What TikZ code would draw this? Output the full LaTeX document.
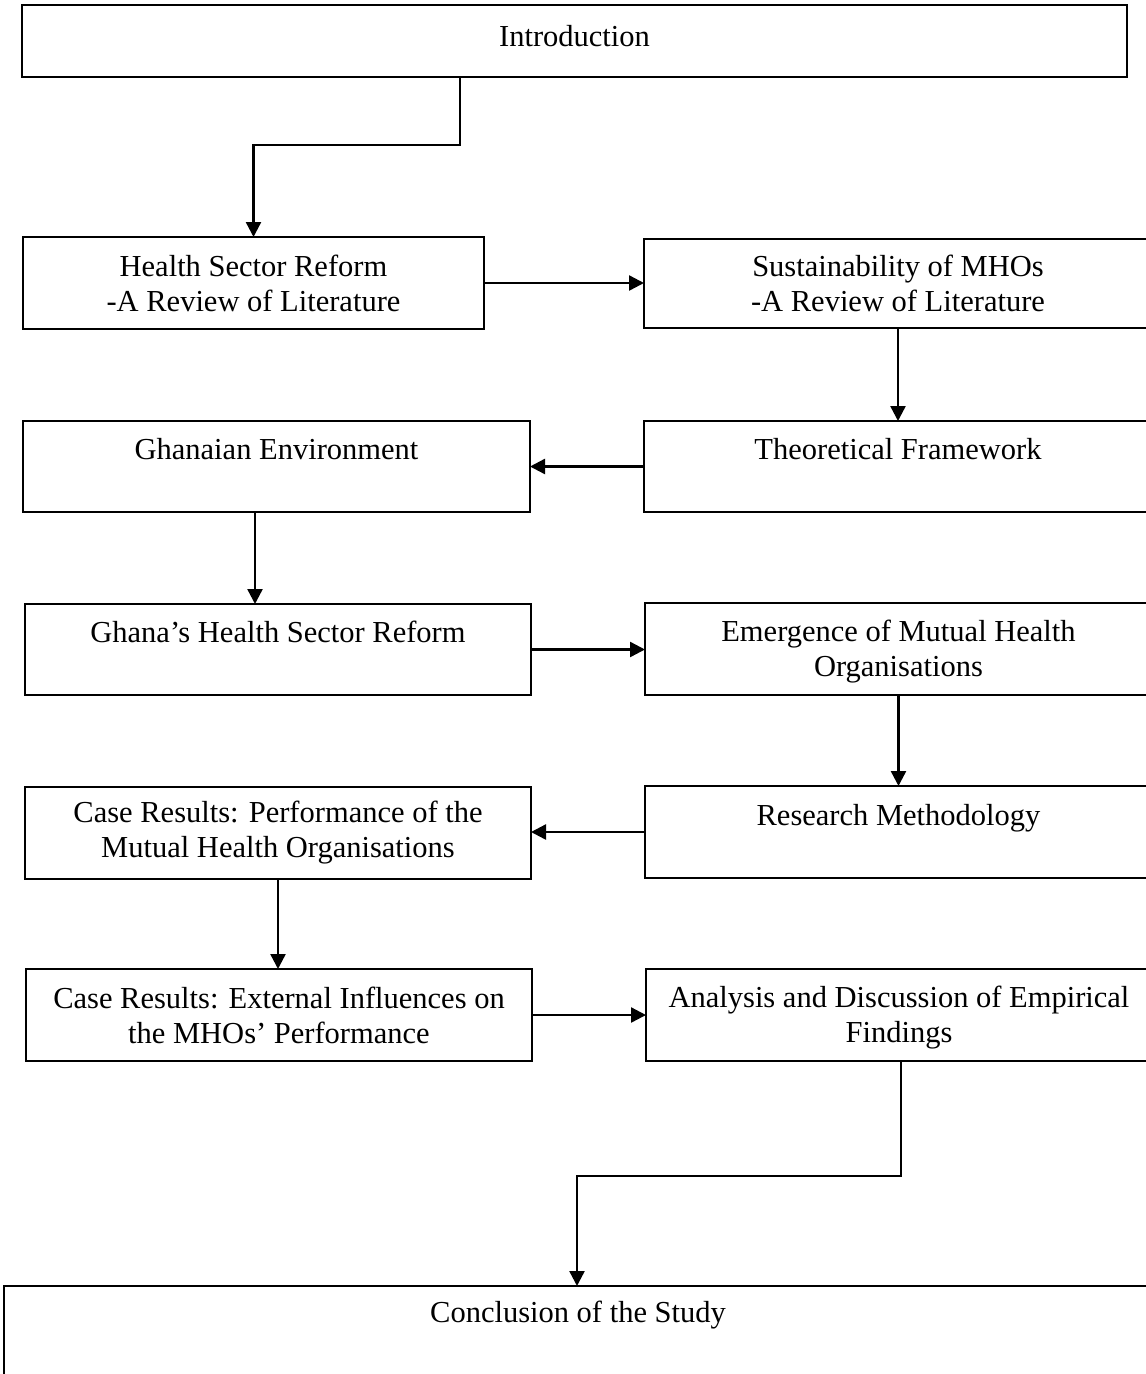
\documentclass[tikz,border=0pt]{standalone}
\usepackage{fontspec}
\setmainfont{Liberation Serif}
\usetikzlibrary{arrows.meta,calc}

\tikzset{
  box/.style={draw=black, line width=2.4pt, rectangle, anchor=north west,
    inner sep=0pt, outer sep=0pt, align=center,
    font=\fontsize{30.5}{35}\selectfont},
  arr/.style={draw=black, line width=2.4pt,
    -{Triangle[length=15pt,width=15pt]}},
  lbl/.style={inner sep=0pt, font=\fontsize{30.5}{35}\selectfont}
}

% place a box by its top-left corner and its size
\newcommand{\flowbox}[6]{%
  \node[box, minimum width=#3pt, minimum height=#4pt] (#5) at (#1,#2) {#6};}
% taller first line, pushes a two-line label slightly down
\newcommand{\lowstrut}{\rule{0pt}{26pt}}

\begin{document}
\begin{tikzpicture}[x=1pt, y=-1pt]
\useasboundingbox (0,0) rectangle (1146,1374);
\clip (0,0) rectangle (1146,1374);

% chapter boxes
\flowbox{22}{5}{1105}{72}{intro}{\raisebox{10pt}{Introduction}}
\flowbox{23}{237}{461}{92}{hsr}{Health Sector Reform\\-A Review of Literature}
\flowbox{644}{239}{508}{89}{sus}{Sustainability of MHOs\\-A Review of Literature}
\flowbox{23}{421}{507}{91}{ghe}{Ghanaian Environment\\\mbox{}}
\flowbox{644}{421}{508}{91}{thf}{Theoretical Framework\\\mbox{}}
\flowbox{25}{604}{506}{91}{ghr}{Ghana’s Health Sector Reform\\\mbox{}}
\flowbox{645}{603}{507}{92}{emh}{\lowstrut Emergence of Mutual Health\\Organisations}
\flowbox{25}{787}{506}{92}{cpm}{Case Results: Performance of the\\Mutual Health Organisations}
\flowbox{645}{786}{507}{92}{rme}{Research Methodology\\\mbox{}}
\flowbox{26}{969}{506}{92}{cex}{Case Results: External Influences on\\the MHOs’ Performance}
\flowbox{646}{969}{506}{92}{ana}{\lowstrut Analysis and Discussion of Empirical\\Findings}
\flowbox{4}{1286}{1160}{120}{con}{}
\node[lbl] (contxt) at (578,1315) {Conclusion of the Study};

% bend points of the stepped connectors
\coordinate (b1) at (460,145);
\coordinate (b2) at (901,1176);
\coordinate (b3) at (577,1176);

% connectors
\draw[arr] (intro.south -| b1) -- (b1) -| (hsr.north);
\draw[arr] (hsr.east) -- (sus.west |- hsr.east);
\draw[arr] (sus.south) -- (thf.north -| sus.south);
\draw[arr] (thf.west) -- (ghe.east |- thf.west);
\draw[arr] ($(ghe.south west)+(232,0)$) -- ($(ghr.north west)+(230,0)$);
\draw[arr] (ghr.east) -- (emh.west |- ghr.east);
\draw[arr] (emh.south) -- (rme.north -| emh.south);
\draw[arr] (rme.west) -- (cpm.east |- rme.west);
\draw[arr] (cpm.south) -- (cex.north -| cpm.south);
\draw[arr] (cex.east) -- (ana.west |- cex.east);
\draw[arr] (ana.south -| b2) -- (b2) -- (b3) -- (con.north -| b3);
\end{tikzpicture}
\end{document}
